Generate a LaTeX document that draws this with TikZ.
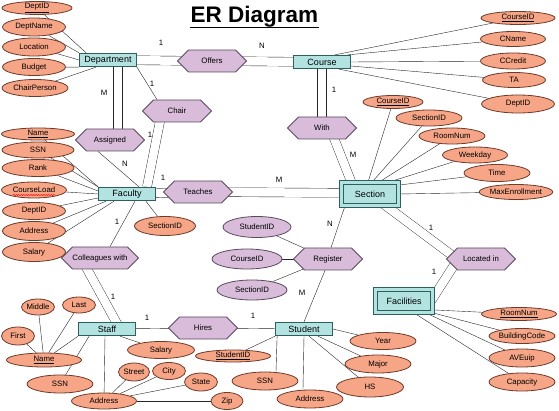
\documentclass[tikz,border=0pt]{standalone}
\usepackage{fontspec}
\setmainfont{Liberation Sans}
\usetikzlibrary{shapes.geometric,shapes.symbols,backgrounds,decorations.pathmorphing}

\definecolor{entfill}{HTML}{B3E3E1}
\definecolor{entline}{HTML}{2F5E5E}
\definecolor{relfill}{HTML}{D8BCDA}
\definecolor{relline}{HTML}{5B4A5F}
\definecolor{attfill}{HTML}{F6A586}
\definecolor{attline}{HTML}{6E3A2A}
\def\attfont{\fontsize{7.8}{9}\selectfont}
\def\entfont{\fontsize{9}{11}\selectfont}
\tikzstyle{entity}=[draw=entline, fill=entfill, minimum width=57pt,
                    minimum height=13.5pt, inner sep=0pt, font=\entfont]
\tikzstyle{weak}=[entity, double=entfill, double distance=3pt,
                  minimum width=57pt, minimum height=23pt]
\tikzstyle{rel}=[draw=relline, fill=relfill, signal, signal to=east and west,
                 minimum width=69pt, minimum height=22pt, inner sep=0pt, font=\attfont]
\tikzstyle{attr}=[draw=attline, fill=attfill, ellipse, minimum width=66pt,
                  minimum height=17pt, inner sep=0pt, font=\attfont]
\tikzstyle{keyattr}=[attr, minimum width=74pt, minimum height=13pt]
\tikzstyle{subattr}=[attr, minimum width=33pt]
\tikzstyle{ratt}=[attr, draw=relline, fill=relfill, minimum width=70pt, minimum height=20pt]
\tikzstyle{card}=[font=\attfont, inner sep=0pt]
\tikzstyle{total}=[double, double distance=8.5pt]

\begin{document}
\begin{tikzpicture}[x=1pt, y=-1pt, line width=0.8pt,
                    every edge/.style={draw=black!85}]
  \useasboundingbox (0,0) rectangle (559,411);

  \node[inner sep=0pt, font=\fontsize{22.5}{26}\selectfont\bfseries, anchor=base] (title) at (254.5,23) {ER Diagram};
  \draw[line width=1.7pt] ([yshift=-4.5pt]title.base west) -- ([yshift=-4.5pt]title.base east);

  % entities
  \node[entity] (dept) at (108,60) {Department};
  \node[entity] (course) at (322,62) {Course};
  \node[entity] (fac) at (127,194) {Faculty};
  \node[weak] (sec) at (370,194) {Section};
  \node[weak] (facil) at (404,301) {Facilities};
  \node[entity] (staff) at (107,329) {Staff};
  \node[entity] (stu) at (304,329) {Student};

  % relationships
  \node[rel] (offers) at (212,61) {Offers};
  \node[rel] (chair) at (177,111) {Chair};
  \node[rel] (asg) at (110,140) {Assigned};
  \node[rel] (with) at (322,128) {With};
  \node[rel] (teaches) at (198,192) {Teaches};
  \node[rel, minimum width=71pt] (coll) at (100,258) {Colleagues with};
  \node[rel] (reg) at (328,259) {Register};
  \node[rel] (locin) at (481,259) {Located in};
  \node[rel] (hires) at (203,328) {Hires};

  % department attributes
  \node[keyattr, minimum width=70pt] (ddid) at (37,8) {\underline{DeptID}};
  \node[attr, minimum width=63pt, minimum height=18pt] (dname) at (34,27) {DeptName};
  \node[attr, minimum width=63pt, minimum height=18pt] (dloc) at (34,47) {Location};
  \node[attr, minimum width=63pt] (dbud) at (34,67) {Budget};
  \node[attr] (dchair) at (35,88) {ChairPerson};

  % course attributes
  \node[keyattr] (cid) at (518,18) {\underline{CourseID}};
  \node[attr, minimum width=65pt, minimum height=15pt] (cname) at (513,39) {CName};
  \node[attr, minimum width=65pt, minimum height=16pt] (ccred) at (513,61) {CCredit};
  \node[attr, minimum width=63pt, minimum height=15pt] (cta) at (514,80) {TA};
  \node[attr, minimum width=73pt, minimum height=18pt] (cdid) at (518,104) {DeptID};

  % section attributes
  \node[keyattr, minimum width=60pt] (scid) at (393,102) {\underline{CourseID}};
  \node[attr, minimum height=16pt] (ssid) at (429,118) {SectionID};
  \node[attr, minimum height=16pt] (sroom) at (452,136) {RoomNum};
  \node[attr, minimum width=65pt, minimum height=16pt] (sday) at (475,155) {Weekday};
  \node[attr] (stime) at (497,173) {Time};
  \node[attr, minimum width=65pt, minimum height=15pt] (smax) at (516,192) {MaxEnrollment};

  % faculty attributes
  \node[keyattr, minimum width=73pt, minimum height=12pt] (fname) at (38,134) {\underline{Name}};
  \node[attr, minimum width=72pt, minimum height=16pt] (fssn) at (38,150) {SSN};
  \node[attr, minimum width=72pt] (frank) at (38,168) {Rank};
  \node[attr, minimum width=65pt, minimum height=16pt] (fcl) at (34,190) {CourseLoad};
  \node[attr, minimum width=63pt] (fdid) at (34,211) {DeptID};
  \node[attr, minimum width=63pt, minimum height=19pt] (faddr) at (34,231) {Address};
  \node[attr, minimum width=63pt, minimum height=19pt] (fsal) at (34,252) {Salary};
  \node[attr, minimum width=61pt, minimum height=19pt] (fsec) at (165,226) {SectionID};
  \draw[red, line width=0.5pt, decorate, decoration={snake, amplitude=0.6pt, segment length=2.5pt}]
    ([xshift=-21pt,yshift=-5pt]fcl.center) -- ([xshift=21pt,yshift=-5pt]fcl.center);

  % register attributes
  \node[ratt, minimum width=68pt, minimum height=21pt] (rsid) at (257,227) {StudentID};
  \node[ratt] (rcid) at (247,259) {CourseID};
  \node[ratt] (rsec) at (252,290) {SectionID};

  % staff attributes
  \node[subattr, minimum height=16pt] (smid) at (38,307) {Middle};
  \node[subattr, minimum height=16pt] (slast) at (79,305) {Last};
  \node[subattr, minimum height=18pt] (sfirst) at (18,336) {First};
  \node[keyattr, minimum width=75pt, minimum height=14pt] (sname) at (44,360) {\underline{Name}};
  \node[attr, minimum height=18pt] (sssn) at (60,384) {SSN};
  \node[attr, minimum width=65pt, minimum height=16pt] (saddr) at (104,401) {Address};
  \node[attr, minimum width=67pt] (ssal) at (161,350) {Salary};
  \node[subattr, minimum width=31pt, minimum height=18pt] (sstreet) at (134,372) {Street};
  \node[subattr] (scity) at (169,371) {City};
  \node[subattr, minimum height=18pt] (sstate) at (201,382) {State};
  \node[subattr, minimum width=32pt] (szip) at (227,401) {Zip};

  % student attributes
  \node[keyattr, minimum width=75pt, minimum height=12pt] (tsid) at (233,356) {\underline{StudentID}};
  \node[attr, minimum height=18pt] (tssn) at (265,381) {SSN};
  \node[attr, minimum height=18pt] (taddr) at (310,399) {Address};
  \node[attr] (tyear) at (383,341) {Year};
  \node[attr, minimum height=18pt] (tmaj) at (378,364) {Major};
  \node[attr, minimum width=67pt, minimum height=20pt] (ths) at (370,387) {HS};

  % facilities attributes
  \node[keyattr, minimum width=75pt] (froom) at (519,314) {\underline{RoomNum}};
  \node[attr, minimum height=15pt] (fbuild) at (522,336) {BuildingCode};
  \node[attr, minimum height=18pt] (faveq) at (522,358) {AVEuip};
  \node[attr, minimum height=18pt] (fcap) at (522,382) {Capacity};

  % cardinalities
  \node[card] (k1) at (161,43) {1};
  \node[card] (k2) at (262,46) {N};
  \node[card] (k3) at (152,84) {1};
  \node[card] (k4) at (104,93) {M};
  \node[card] (k5) at (150,135) {1};
  \node[card] (k6) at (125,164) {N};
  \node[card] (k7) at (163,178) {1};
  \node[card] (k8) at (279,180) {M};
  \node[card] (k9) at (334,90) {1};
  \node[card] (k10) at (353,155) {M};
  \node[card] (k11) at (330,224) {N};
  \node[card] (k12) at (302,293) {M};
  \node[card] (k13) at (431,228) {1};
  \node[card] (k14) at (434,272) {1};
  \node[card] (k15) at (117,222) {1};
  \node[card] (k16) at (113,297) {1};
  \node[card] (k17) at (147,318) {1};
  \node[card] (k18) at (253,316) {1};

  \begin{pgfonlayer}{background}
    % teaches
    \draw[total, draw=black!85] (fac.center) -- (teaches.center);
    \draw[total, draw=black!85] (teaches.center) -- ([yshift=1pt]sec.center);
    % relationships
    \path (dept.center) edge[total] (offers.center)
          (offers.center) edge[total] (course.center)
          ([xshift=-20pt]chair.north) edge (dept.south east)
          ([xshift=10pt]dept.south) edge[total] ([xshift=8pt]asg.center)
          ([xshift=-12pt]asg.south) edge ([xshift=12pt]fac.north)
          ([xshift=-15pt]chair.center) edge[total] ([xshift=20pt]fac.north)
          (course.center) edge[total] (with.center)
          ([xshift=8pt]with.center) edge[total] ([xshift=-14pt]sec.center)
          ([xshift=-25pt]sec.south) edge ([xshift=3pt]reg.north)
          ([xshift=-3pt]reg.south) edge (stu.north)
          (sec.center) edge[total] ([xshift=-24pt]locin.center)
          ([xshift=-23pt]locin.center) edge[total] ([xshift=27pt]facil.center)
          ([xshift=8pt]fac.south) edge ([xshift=10pt]coll.north)
          ([xshift=-19pt]coll.center) edge[total] ([xshift=13pt]staff.center)
          (staff.center) edge (hires.center)
          (hires.center) edge (stu.center)
          (rsid) edge (reg.center)
          (rcid) edge (reg.center)
          (rsec) edge (reg.center);
    % department
    \path (ddid) edge ([xshift=7pt]dept.north west)
          (dname) edge (dept.north west)
          (dloc) edge (dept.west)
          (dbud) edge (dept.south west)
          (dchair) edge ([xshift=17pt]dept.south west);
    % course
    \path ([xshift=-16pt]course.north east) edge (cid)
          ([xshift=-3pt]course.north east) edge (cname)
          (course.east) edge (ccred)
          ([yshift=-4pt]course.east) edge (cta)
          ([xshift=-12pt]course.south east) edge (cdid);
    % section
    \path ([xshift=-2pt]sec.north) edge (scid)
          ([xshift=2pt]sec.north) edge (ssid)
          ([xshift=9pt]sec.north) edge (sroom)
          ([xshift=-10pt]sec.north east) edge (sday)
          ([yshift=-3pt]sec.north east) edge (stime)
          (sec.east) edge (smax);
    % faculty
    \path (fac.north west) edge (fname)
          (fac.north west) edge (fssn)
          ([yshift=3pt]fac.west) edge (frank)
          (fac.west) edge (fcl)
          ([yshift=-4pt]fac.west) edge (fdid)
          ([xshift=8pt]fac.south west) edge (faddr)
          ([xshift=16pt]fac.south west) edge (fsal)
          ([xshift=-10pt]fac.south east) edge (fsec);
    % staff
    \path (staff.south west) edge (sname)
          ([xshift=11pt]staff.south west) edge (sssn)
          ([xshift=-2pt]staff.south) edge (saddr)
          ([xshift=-16pt]staff.south east) edge (ssal)
          (smid) edge (sname)
          (slast) edge (sname)
          (sfirst) edge (sname)
          (saddr) edge (sstreet)
          (saddr) edge (scity)
          (saddr) edge (sstate)
          (saddr) edge (szip);
    % student
    \path (stu.south west) edge (tsid)
          ([xshift=2pt]stu.south west) edge ([xshift=11pt]tssn.north)
          (stu.south) edge ([xshift=-7pt]taddr.north)
          ([xshift=5pt]stu.south) edge (ths)
          ([xshift=-15pt]stu.south east) edge (tmaj)
          (stu.east) edge (tyear);
    % facilities
    \path ([yshift=3pt]facil.south east) edge (froom)
          (facil.south east) edge (fbuild)
          ([xshift=-7pt]facil.south east) edge (faveq)
          ([xshift=-19pt]facil.south east) edge (fcap);
  \end{pgfonlayer}
\end{tikzpicture}
\end{document}
